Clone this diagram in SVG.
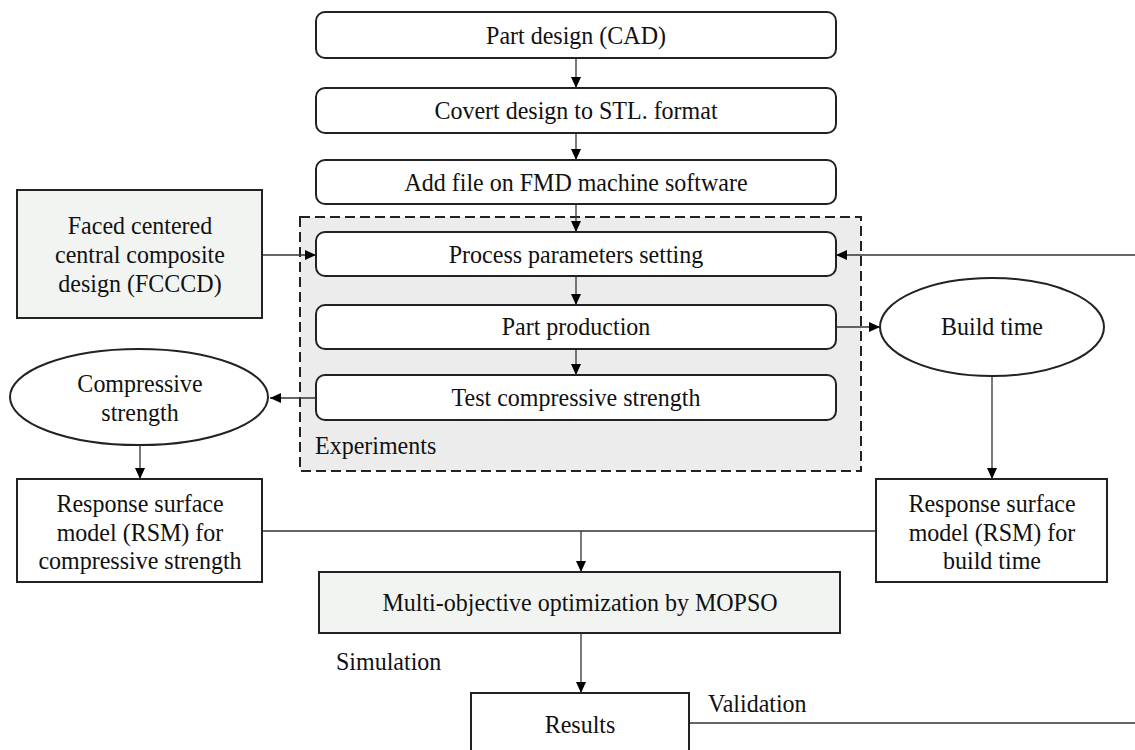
<svg xmlns="http://www.w3.org/2000/svg" width="1135" height="750" viewBox="0 0 1135 750">
<defs>
<marker id="ah" viewBox="0 0 11 10" refX="11" refY="5" markerWidth="11" markerHeight="10" markerUnits="userSpaceOnUse" orient="auto"><path d="M0,0 L11,5 L0,10 z" fill="#000"/></marker>
<style>
.rr{fill:#fff;stroke:#222;stroke-width:2}
.bx{fill:#fff;stroke:#222;stroke-width:2}
.gb{fill:#f2f4f2;stroke:#222;stroke-width:2}
.t{font-family:"Liberation Serif","Times New Roman",serif;font-size:24px;fill:#111;text-anchor:middle}
.tl{font-family:"Liberation Serif","Times New Roman",serif;font-size:24px;fill:#111}
.c{fill:none;stroke:#333;stroke-width:1.3}
</style>
</defs>
<rect width="1135" height="750" fill="#fff"/>
<g id="experiments">
<rect x="300" y="217" width="561" height="254" fill="#ececec" stroke="#222" stroke-width="2" stroke-dasharray="10 5"/>
<text class="tl" transform="translate(315,454) scale(1,1.06)">Experiments</text>
</g>
<g id="connectors">
<line class="c" x1="576" y1="58" x2="576" y2="88" marker-end="url(#ah)"/>
<line class="c" x1="576" y1="133" x2="576" y2="160" marker-end="url(#ah)"/>
<line class="c" x1="576" y1="204" x2="576" y2="232" marker-end="url(#ah)"/>
<line class="c" x1="576" y1="276" x2="576" y2="305" marker-end="url(#ah)"/>
<line class="c" x1="576" y1="349" x2="576" y2="375" marker-end="url(#ah)"/>
<line class="c" x1="262" y1="255" x2="316" y2="255" marker-end="url(#ah)"/>
<line class="c" x1="1135" y1="255" x2="836" y2="255" marker-end="url(#ah)"/>
<line class="c" x1="836" y1="327" x2="880" y2="327" marker-end="url(#ah)"/>
<line class="c" x1="316" y1="398" x2="270" y2="398" marker-end="url(#ah)"/>
<line class="c" x1="140" y1="445" x2="140" y2="479" marker-end="url(#ah)"/>
<line class="c" x1="992" y1="376" x2="992" y2="479" marker-end="url(#ah)"/>
<line class="c" x1="262" y1="531" x2="876" y2="531"/>
<line class="c" x1="581" y1="531" x2="581" y2="572" marker-end="url(#ah)"/>
<line class="c" x1="581" y1="633" x2="581" y2="693" marker-end="url(#ah)"/>
<line class="c" x1="689" y1="723" x2="1135" y2="723"/>
</g>
<g id="n-cad"><rect class="rr" x="316" y="12" width="520" height="46" rx="9"/><text class="t" transform="translate(576,44) scale(1,1.06)">Part design (CAD)</text></g>
<g id="n-stl"><rect class="rr" x="316" y="88" width="520" height="45" rx="9"/><text class="t" transform="translate(576,119) scale(1,1.06)">Covert design to STL. format</text></g>
<g id="n-fmd"><rect class="rr" x="316" y="160" width="520" height="44" rx="9"/><text class="t" transform="translate(576,191) scale(1,1.06)">Add file on FMD machine software</text></g>
<g id="n-process"><rect class="rr" x="316" y="232" width="520" height="44" rx="9"/><text class="t" transform="translate(576,263) scale(1,1.06)">Process parameters setting</text></g>
<g id="n-production"><rect class="rr" x="316" y="305" width="520" height="44" rx="9"/><text class="t" transform="translate(576,335) scale(1,1.06)">Part production</text></g>
<g id="n-test"><rect class="rr" x="316" y="375" width="520" height="45" rx="9"/><text class="t" transform="translate(576,406) scale(1,1.06)">Test compressive strength</text></g>
<g id="n-fcccd"><rect class="gb" x="17" y="190" width="245" height="128"/><text class="t" transform="translate(140,234) scale(1,1.06)">Faced centered</text><text class="t" transform="translate(140,263) scale(1,1.06)">central composite</text><text class="t" transform="translate(140,292) scale(1,1.06)">design (FCCCD)</text></g>
<g id="n-comp"><ellipse class="bx" cx="139" cy="397" rx="129" ry="48"/><text class="t" transform="translate(140,392) scale(1,1.06)">Compressive</text><text class="t" transform="translate(140,421) scale(1,1.06)">strength</text></g>
<g id="n-build"><ellipse class="bx" cx="992" cy="327" rx="112" ry="49"/><text class="t" transform="translate(992,335) scale(1,1.06)">Build time</text></g>
<g id="n-rsm-cs"><rect class="bx" x="17" y="479" width="245" height="103"/><text class="t" transform="translate(140,512) scale(1,1.06)">Response surface</text><text class="t" transform="translate(140,541) scale(1,1.06)">model (RSM) for</text><text class="t" transform="translate(140,569) scale(1,1.06)">compressive strength</text></g>
<g id="n-rsm-bt"><rect class="bx" x="876" y="479" width="231" height="103"/><text class="t" transform="translate(992,512) scale(1,1.06)">Response surface</text><text class="t" transform="translate(992,541) scale(1,1.06)">model (RSM) for</text><text class="t" transform="translate(992,569) scale(1,1.06)">build time</text></g>
<g id="n-mopso"><rect class="gb" x="319" y="572" width="521" height="61"/><text class="t" transform="translate(580,611) scale(1,1.06)">Multi-objective optimization by MOPSO</text></g>
<text class="tl" transform="translate(336,670) scale(1,1.06)">Simulation</text>
<g id="n-results"><rect class="bx" x="471" y="693" width="218" height="70"/><text class="t" transform="translate(580,733) scale(1,1.06)">Results</text></g>
<text class="tl" transform="translate(708,712) scale(1,1.06)">Validation</text>
</svg>
